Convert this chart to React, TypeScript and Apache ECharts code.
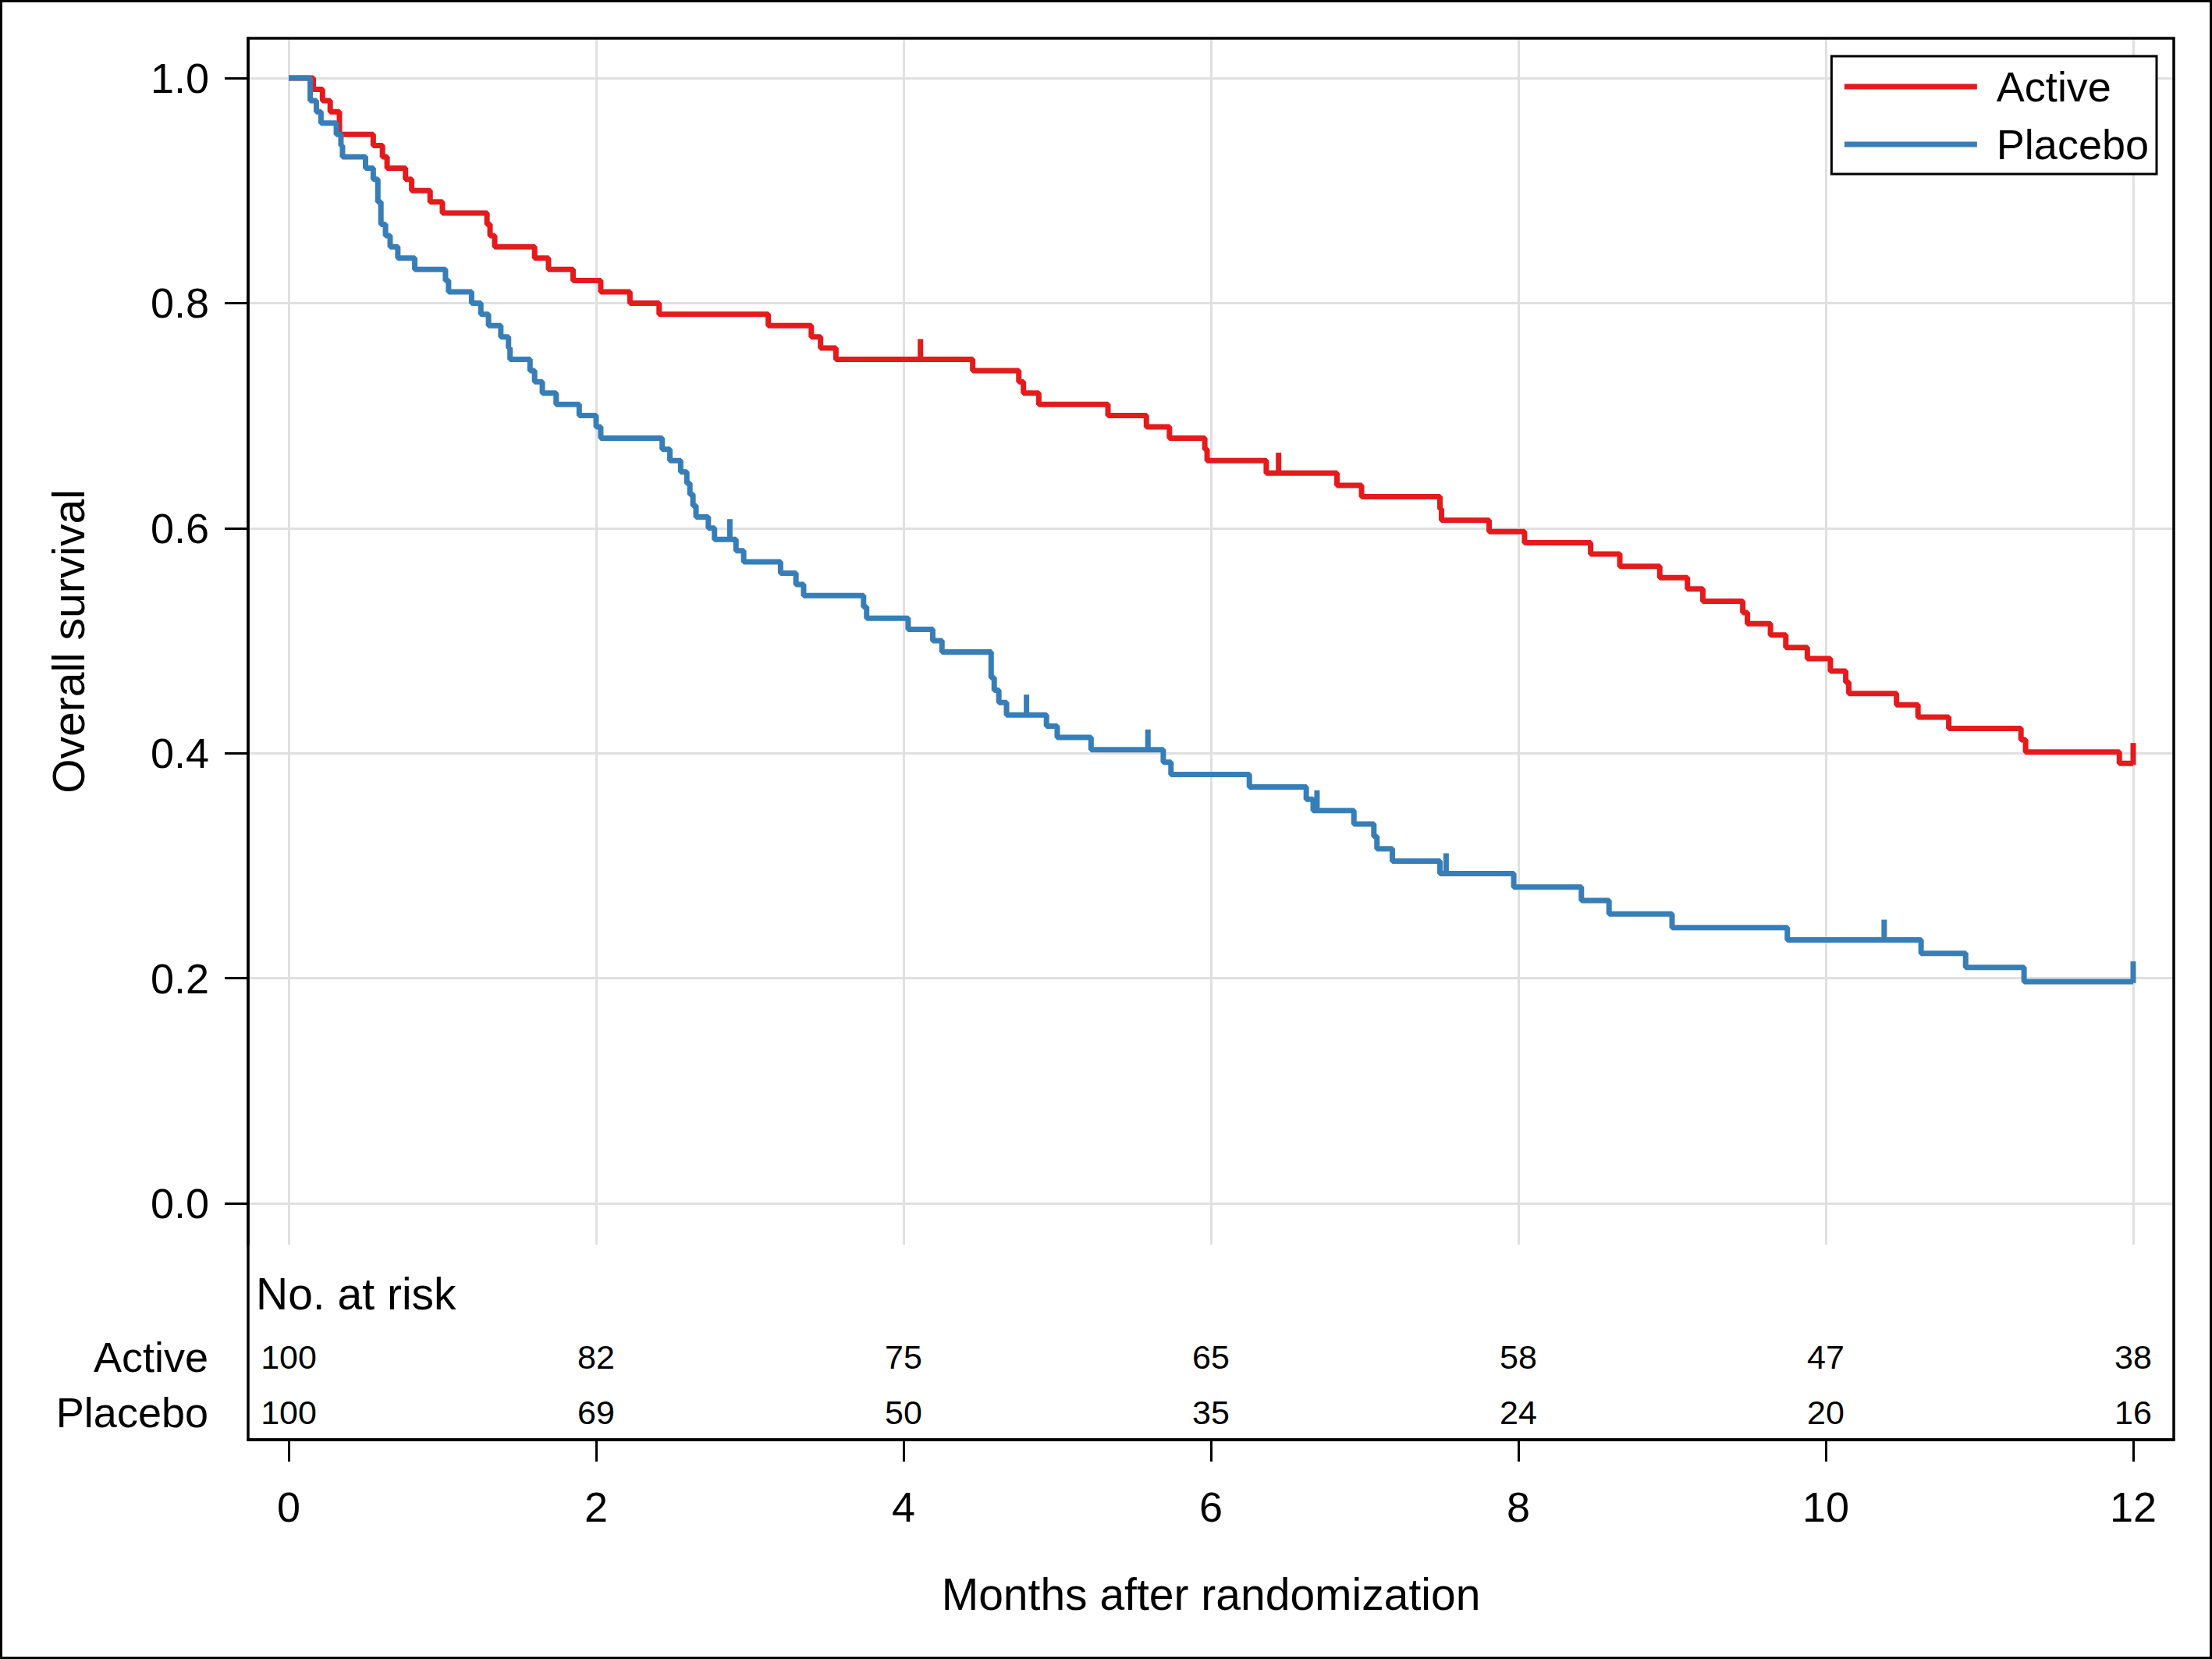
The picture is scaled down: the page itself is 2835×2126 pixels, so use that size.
import React, { useEffect, useRef } from 'react';
import * as echarts from 'echarts';

// Kaplan-Meier step points [month, survival] (value holds from that month onward)
const activeSteps: [number, number][] = [
  [0, 1.0], [0.16, 0.99], [0.22, 0.98], [0.27, 0.97], [0.33, 0.95], [0.55, 0.94],
  [0.61, 0.93], [0.64, 0.92], [0.76, 0.91], [0.8, 0.9], [0.92, 0.89], [1.0, 0.88],
  [1.29, 0.87], [1.31, 0.86], [1.34, 0.85], [1.6, 0.84], [1.69, 0.83], [1.85, 0.82],
  [2.03, 0.81], [2.22, 0.8], [2.41, 0.79], [3.12, 0.78], [3.4, 0.77], [3.46, 0.76],
  [3.56, 0.75], [4.45, 0.74], [4.75, 0.73], [4.78, 0.72], [4.88, 0.71], [5.33, 0.7],
  [5.58, 0.69], [5.73, 0.68], [5.96, 0.67], [5.975, 0.66], [6.36, 0.649], [6.82, 0.638],
  [6.98, 0.628], [7.49, 0.617], [7.5, 0.607], [7.81, 0.597], [8.04, 0.587], [8.47, 0.577],
  [8.66, 0.566], [8.92, 0.556], [9.1, 0.546], [9.2, 0.535], [9.46, 0.525], [9.49, 0.515],
  [9.64, 0.505], [9.74, 0.494], [9.88, 0.484], [10.03, 0.473], [10.13, 0.463], [10.15, 0.453],
  [10.46, 0.443], [10.6, 0.432], [10.8, 0.422], [11.27, 0.412], [11.3, 0.401], [11.91, 0.391],
  [12.0, 0.391],
];

const placeboSteps: [number, number][] = [
  [0, 1.0], [0.14, 0.98], [0.18, 0.97], [0.21, 0.96], [0.31, 0.95], [0.34, 0.94],
  [0.35, 0.93], [0.5, 0.92], [0.55, 0.91], [0.58, 0.89], [0.6, 0.87], [0.63, 0.86],
  [0.66, 0.85], [0.71, 0.84], [0.82, 0.83], [1.02, 0.82], [1.04, 0.81], [1.19, 0.8],
  [1.25, 0.79], [1.3, 0.78], [1.38, 0.77], [1.43, 0.76], [1.44, 0.75], [1.57, 0.74],
  [1.6, 0.73], [1.65, 0.72], [1.74, 0.71], [1.89, 0.7], [2.0, 0.69], [2.03, 0.68],
  [2.43, 0.67], [2.48, 0.66], [2.55, 0.65], [2.59, 0.64], [2.61, 0.63], [2.63, 0.62],
  [2.65, 0.61], [2.73, 0.6], [2.77, 0.59], [2.91, 0.58], [2.96, 0.57], [3.2, 0.56],
  [3.3, 0.55], [3.35, 0.54], [3.74, 0.53], [3.76, 0.52], [4.03, 0.51], [4.19, 0.5],
  [4.25, 0.49], [4.57, 0.467], [4.59, 0.456], [4.62, 0.445], [4.67, 0.434], [4.93, 0.424],
  [5.0, 0.414], [5.22, 0.403], [5.69, 0.392], [5.74, 0.381], [6.25, 0.37], [6.62, 0.359],
  [6.665, 0.349], [6.93, 0.337], [7.06, 0.326], [7.08, 0.315], [7.18, 0.304], [7.49, 0.293],
  [7.97, 0.281], [8.41, 0.269], [8.59, 0.257], [9.0, 0.245], [9.75, 0.234], [10.62, 0.222],
  [10.91, 0.2095], [11.29, 0.197], [12.0, 0.197],
];

// Censoring marks [month, survival]
const activeCensored: [number, number][] = [[4.11, 0.75], [6.44, 0.649], [12.0, 0.391]];
const placeboCensored: [number, number][] = [
  [2.87, 0.59], [4.8, 0.434], [5.59, 0.403], [6.69, 0.349], [7.53, 0.293], [10.38, 0.234], [12.0, 0.197],
];

// Number at risk table
const riskTimes = [0, 2, 4, 6, 8, 10, 12];
const activeAtRisk = [100, 82, 75, 65, 58, 47, 38];
const placeboAtRisk = [100, 69, 50, 35, 24, 20, 16];
const groupRows = ['Placebo', 'Active']; // bottom to top

// Axis ticks
const xTicks = [0, 2, 4, 6, 8, 10, 12];
const yTicks = [0, 0.2, 0.4, 0.6, 0.8, 1.0];

const RED = '#e41a1c';
const BLUE = '#377eb8';
const GRID = '#e0e0e0';
const FONT = '"Liberation Sans", Arial, Helvetica, sans-serif';

export default function App() {
  const ref = useRef<HTMLDivElement>(null);

  useEffect(() => {
    document.body.style.margin = '0';
    const chart = echarts.init(ref.current!, null, { renderer: 'svg' });
    const W = 2835, H = 2126;
    const L = 318, R = 2786, T = 49, B = 1845, PB = 1595, RT = 1703;
    const xMin = -0.264, xMax = 12.264;
    const yMin = -0.0368, yMax = 1.0354;

    const atRiskLabel = {
      show: true, position: 'inside', formatter: (p: any) => String(p.value[2]),
      fontSize: 43, color: '#000', fontFamily: FONT, textBorderWidth: 0, opacity: 1,
    };

    const option: any = {
      animation: false,
      backgroundColor: '#ffffff',
      textStyle: { fontFamily: FONT },
      grid: [
        { left: L, top: T, width: R - L, height: PB - T },
        { left: L, top: RT, width: R - L, height: B - RT },
      ],
      xAxis: [
        {
          gridIndex: 0, type: 'value', min: xMin, max: xMax,
          axisLine: { show: false, onZero: false },
          axisTick: { show: false, customValues: xTicks },
          axisLabel: { show: false, customValues: xTicks },
          splitLine: { show: true, lineStyle: { color: GRID, width: 3 } },
        },
        {
          gridIndex: 1, type: 'value', min: xMin, max: xMax,
          axisLine: { show: true, onZero: false, lineStyle: { color: '#000', width: 3.5 } },
          axisTick: { show: true, inside: false, length: 28, customValues: xTicks, lineStyle: { color: '#000', width: 3 } },
          axisLabel: { customValues: xTicks, fontSize: 54, color: '#000', margin: 59, fontFamily: FONT },
          splitLine: { show: false },
          name: 'Months after randomization', nameLocation: 'middle', nameGap: 169,
          nameTextStyle: { fontSize: 57, color: '#000', fontFamily: FONT },
        },
      ],
      yAxis: [
        {
          gridIndex: 0, type: 'value', min: yMin, max: yMax,
          axisLine: { show: true, onZero: false, lineStyle: { color: '#000', width: 3.5 } },
          axisTick: { show: true, inside: false, length: 30, customValues: yTicks, lineStyle: { color: '#000', width: 3 } },
          axisLabel: { customValues: yTicks, formatter: (v: number) => v.toFixed(1), fontSize: 54, color: '#000', margin: 50, fontFamily: FONT },
          splitLine: { show: true, lineStyle: { color: GRID, width: 3 } },
          name: 'Overall survival', nameLocation: 'middle', nameGap: 202,
          nameTextStyle: { fontSize: 57, color: '#000', fontFamily: FONT },
        },
        {
          gridIndex: 1, type: 'category', data: groupRows,
          axisLine: { show: false, onZero: false }, axisTick: { show: false }, splitLine: { show: false },
          axisLabel: { fontSize: 54, color: '#000', margin: 51, fontFamily: FONT },
        },
      ],
      legend: {
        data: ['Active', 'Placebo'],
        orient: 'vertical',
        right: W - 2764, top: 72,
        padding: [12, 10, 11, 13],
        itemWidth: 170, itemHeight: 54, itemGap: 20,
        borderColor: '#000', borderWidth: 3, borderRadius: 0,
        backgroundColor: '#fff',
        selectedMode: false,
        itemStyle: { opacity: 0 },
        lineStyle: { width: 7 },
        textStyle: { fontSize: 54, color: '#000', fontFamily: FONT, padding: [0, 0, 0, 20] },
        z: 20,
      },
      graphic: [
        {
          type: 'rect', silent: true, z: 100,
          shape: { x: L, y: T, width: R - L, height: B - T },
          style: { fill: 'none', stroke: '#000', lineWidth: 3.5 },
        },
        {
          type: 'rect', silent: true, z: 100,
          shape: { x: 1.5, y: 1.5, width: W - 3, height: H - 3 },
          style: { fill: 'none', stroke: '#000', lineWidth: 3 },
        },
        {
          type: 'text', silent: true, z: 100, x: 328, y: 1658,
          style: { text: 'No. at risk', fontSize: 57, fill: '#000', fontFamily: FONT, align: 'left', verticalAlign: 'middle' },
        },
      ],
      series: [
        {
          name: 'Active', type: 'line', xAxisIndex: 0, yAxisIndex: 0, step: 'end',
          data: activeSteps, symbol: 'none', z: 3,
          lineStyle: { color: RED, width: 7 }, itemStyle: { color: RED },
        },
        {
          name: 'Placebo', type: 'line', xAxisIndex: 0, yAxisIndex: 0, step: 'end',
          data: placeboSteps, symbol: 'none', z: 4,
          lineStyle: { color: BLUE, width: 7 }, itemStyle: { color: BLUE },
        },
        {
          name: 'Active censored', type: 'scatter', xAxisIndex: 0, yAxisIndex: 0,
          data: activeCensored, symbol: 'rect', symbolSize: [7, 28], symbolOffset: [0, -12], z: 3,
          itemStyle: { color: RED, opacity: 1 }, silent: true,
        },
        {
          name: 'Placebo censored', type: 'scatter', xAxisIndex: 0, yAxisIndex: 0,
          data: placeboCensored, symbol: 'rect', symbolSize: [7, 28], symbolOffset: [0, -12], z: 4,
          itemStyle: { color: BLUE, opacity: 1 }, silent: true,
        },
        {
          name: 'Active at risk', type: 'scatter', xAxisIndex: 1, yAxisIndex: 1,
          data: riskTimes.map((t, i) => [t, 1, activeAtRisk[i]]),
          symbolSize: 2, itemStyle: { color: 'rgba(0,0,0,0)', opacity: 1 }, silent: true,
          label: atRiskLabel,
        },
        {
          name: 'Placebo at risk', type: 'scatter', xAxisIndex: 1, yAxisIndex: 1,
          data: riskTimes.map((t, i) => [t, 0, placeboAtRisk[i]]),
          symbolSize: 2, itemStyle: { color: 'rgba(0,0,0,0)', opacity: 1 }, silent: true,
          label: atRiskLabel,
        },
      ],
    };

    chart.setOption(option);
    return () => chart.dispose();
  }, []);

  return <div ref={ref} style={{ width: 2835, height: 2126 }} />;
}
